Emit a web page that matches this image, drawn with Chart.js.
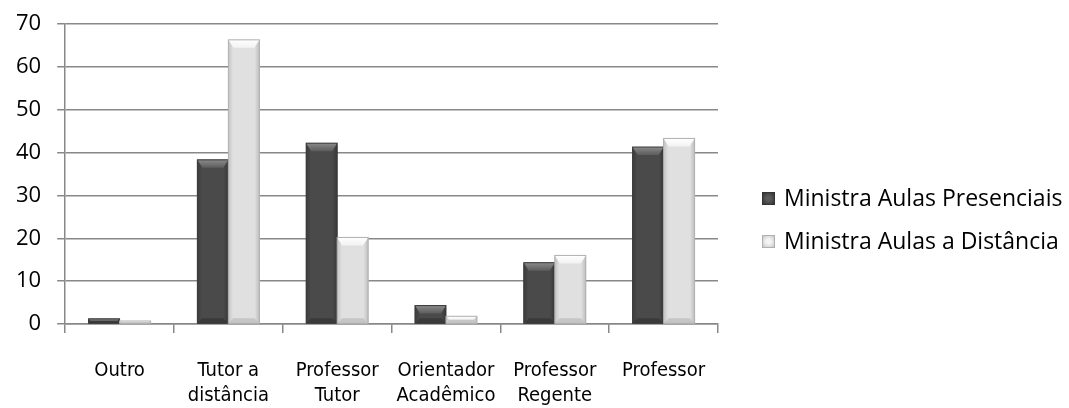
<!DOCTYPE html>
<html>
<head>
<meta charset="utf-8">
<script src="https://cdn.jsdelivr.net/npm/chart.js@4.4.1/dist/chart.umd.min.js"></script>
<style>
  body { margin: 0; background: #fff; }
  #wrap { position: relative; width: 1069px; height: 408px; }
  #legend { position: absolute; left: 762px; top: 180px; font-family: "Open Sans", sans-serif; font-size: 23px; color: #000; }
  #legend div { height: 43px; line-height: 34px; white-space: nowrap; }
  #legend span.box { display: inline-block; width: 13px; height: 13px; margin-right: 9px; vertical-align: 1px; box-sizing: border-box; }
</style>
</head>
<body>
<div id="wrap"><canvas id="myChart"></canvas><div id="legend"></div></div>
<script>
const categories = [["Outro"], ["Tutor a", "distância"], ["Professor", "Tutor"], ["Orientador", "Acadêmico"], ["Professor", "Regente"], ["Professor"]];
const presenciais = [1.2, 38.3, 42.2, 4.3, 14.3, 41.3];
const distancia = [0.7, 66.3, 20.2, 1.8, 16, 43.3];
const seriesNames = ["Ministra Aulas Presenciais", "Ministra Aulas a Distância"];
const legendBoxes = [
  "background: radial-gradient(circle, #5a5a5a 30%, #333 100%); border: 1px solid #333;",
  "background: radial-gradient(circle, #f4f4f4 30%, #c8c8c8 100%); border: 1px solid #b0b0b0;",
];

const ctx = document.getElementById("myChart");

// legend as html, same order as the datasets
let leg = document.getElementById("legend");
seriesNames.forEach((name, i) => {
  let row = document.createElement("div");
  row.innerHTML = '<span class="box" style="' + legendBoxes[i] + '"></span>' + name;
  leg.appendChild(row);
});

// bevelled look like the office chart
const bevel = {
  id: "bevel",
  afterDatasetsDraw(chart) {
    const c = chart.ctx;
    chart.data.datasets.forEach((ds, i) => {
      const meta = chart.getDatasetMeta(i);
      const dark = i == 0;
      meta.data.forEach((bar) => {
        const left = bar.x - bar.width / 2;
        const right = bar.x + bar.width / 2;
        const top = bar.y;
        const bottom = bar.base;
        const h = bottom - top;
        const b = Math.min(8, h / 2);
        const s = Math.min(5, h / 2);
        c.save();
        // sides
        let g = c.createLinearGradient(left, 0, right, 0);
        if (dark) {
          g.addColorStop(0, "#3c3c3c");
          g.addColorStop(0.15, "#4a4a4a");
          g.addColorStop(0.85, "#4a4a4a");
          g.addColorStop(1, "#383838");
        } else {
          g.addColorStop(0, "#c4c4c4");
          g.addColorStop(0.15, "#e0e0e0");
          g.addColorStop(0.85, "#e0e0e0");
          g.addColorStop(1, "#bdbdbd");
        }
        c.fillStyle = g;
        c.fillRect(left, top, bar.width, h);
        // top face
        c.beginPath();
        c.moveTo(left, top);
        c.lineTo(right, top);
        c.lineTo(right - s, top + b);
        c.lineTo(left + s, top + b);
        c.closePath();
        g = c.createLinearGradient(0, top, 0, top + b);
        if (dark) {
          g.addColorStop(0, "#8a8a8a");
          g.addColorStop(1, "#5c5c5c");
        } else {
          g.addColorStop(0, "#ffffff");
          g.addColorStop(1, "#f2f2f2");
        }
        c.fillStyle = g;
        c.fill();
        // bottom face
        c.beginPath();
        c.moveTo(left, bottom);
        c.lineTo(left + s, bottom - s);
        c.lineTo(right - s, bottom - s);
        c.lineTo(right, bottom);
        c.closePath();
        c.fillStyle = dark ? "#3a3a3a" : "#c6c6c6";
        c.fill();
        c.strokeStyle = dark ? "#3a3a3a" : "#b0b0b0";
        c.lineWidth = 1;
        c.strokeRect(left, top, bar.width, h);
        c.restore();
      });
    });
  },
};

new Chart(ctx, {
  type: "bar",
  data: {
    labels: categories,
    datasets: [
      {
        label: seriesNames[0],
        data: presenciais,
        backgroundColor: "#484848",
        borderWidth: 0,
        barPercentage: 1,
        categoryPercentage: 0.57,
      },
      {
        label: seriesNames[1],
        data: distancia,
        backgroundColor: "#e2e2e2",
        borderWidth: 0,
        barPercentage: 1,
        categoryPercentage: 0.57,
      },
    ],
  },
  options: {
    maintainAspectRatio: false,
    animation: false,
    layout: {
      padding: { top: 24, right: 351, left: 0, bottom: 0 },
    },
    plugins: {
      legend: { display: false },
      tooltip: { enabled: false },
    },
    scales: {
      y: {
        min: 0,
        max: 70,
        afterFit(scale) {
          scale.paddingTop = 0;
          scale.paddingBottom = 0;
        },
        ticks: {
          stepSize: 10,
          color: "#000",
          font: { family: "Open Sans", size: 22 },
          padding: 16,
        },
        grid: {
          color: "#888",
          lineWidth: 1.5,
          tickLength: 8,
        },
        border: { color: "#888", width: 1.5 },
      },
      x: {
        afterFit(scale) {
          scale.height = 84;
        },
        ticks: {
          color: "#000",
          font: { family: "'DejaVu Sans Condensed', 'Liberation Sans', sans-serif", size: 20, lineHeight: 1.25 },
          padding: 25,
          maxRotation: 0,
          autoSkip: false,
        },
        grid: {
          drawOnChartArea: false,
          color: "#888",
          lineWidth: 1.5,
          tickLength: 9,
        },
        border: { color: "#888", width: 1.5 },
      },
    },
  },
  plugins: [bevel],
});
</script>
</body>
</html>
